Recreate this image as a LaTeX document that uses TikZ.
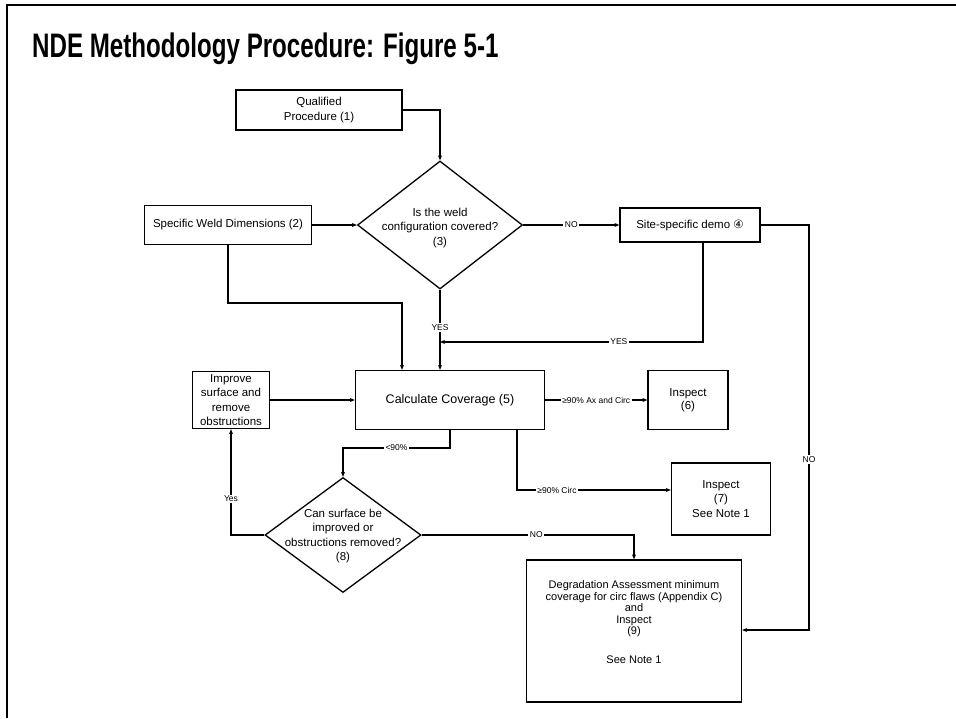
\documentclass[tikz,border=0pt]{standalone}
\usepackage{fontspec}
\setmainfont{Liberation Sans}
\newfontfamily\dejavu{DejaVu Sans}
\usetikzlibrary{positioning,arrows.meta,shapes.geometric}

\begin{document}
\begin{tikzpicture}[x=1pt, y=-1pt,
    box/.style={draw, line width=1.3pt, align=center, inner sep=0pt, font=\fontsize{11.5}{14.5}\selectfont},
    dec/.style={draw, diamond, line width=1.3pt, inner sep=0pt},
    dectext/.style={align=center, inner sep=0pt, font=\fontsize{11.5}{14.5}\selectfont},
    arr/.style={line width=1.2pt, -{Stealth[length=5pt,width=4pt]}},
    lbl/.style={fill=white, inner sep=1.5pt, font=\fontsize{8.5}{9}\selectfont}
]
\useasboundingbox (0,0) rectangle (956,718);
\draw[line width=1.2pt] (956,5) -- (7,5) -- (7,718);
\node[anchor=base west, inner sep=0pt, font=\bfseries\fontsize{34}{40}\selectfont] (title) at (32,57) {\scalebox{0.71}[1]{NDE Methodology Procedure: Figure 5-1}};

\node[box, minimum width=166pt, minimum height=40pt] (qp) at (319,110) {Qualified\\Procedure (1)};
\node[dec, minimum width=165pt, minimum height=128pt] (weld) at (440,225) {};
\node[dectext] (weldtxt) at (440,228) {Is the weld\\configuration covered?\\(3)};
\node[box, minimum width=167pt, minimum height=39pt] (dim) at (228,225) {Specific Weld Dimensions (2)};
\node[box, minimum width=140pt, minimum height=34pt] (demo) at (690,225) {Site-specific demo {\dejavu ④}};
\node[box, minimum width=189pt, minimum height=59pt, font=\fontsize{12.5}{14}\selectfont] (calc) at (450,400) {Calculate Coverage (5)};
\node[box, minimum width=80pt, minimum height=59pt, font=\fontsize{11.5}{12.5}\selectfont] (insp6) at (688,400) {Inspect\\(6)};
\node[box, minimum width=77pt, minimum height=57pt] (impr) at (231,400) {Improve\\surface and\\remove\\obstructions};
\node[dec, minimum width=156pt, minimum height=115pt] (surf) at (343,535) {};
\node[dectext] (surftxt) at (343,536) {Can surface be\\improved or\\obstructions removed?\\(8)};
\node[box, minimum width=99pt, minimum height=72pt] (insp7) at (721,499) {Inspect\\(7)\\See Note 1};
\node[box, minimum width=215pt, minimum height=142pt, font=\fontsize{11}{11.5}\selectfont] (degr) at (634,631) {Degradation Assessment minimum\\coverage for circ flaws (Appendix C)\\and\\Inspect\\(9)\\[17pt]See Note 1\\[6pt]};

\coordinate (yesj) at (440,342);
\coordinate (dimj) at (402,303);
\coordinate (noc) at (809,630);
\coordinate (lowj) at (343,448);

\draw[arr] (qp.east) -| (weld.north);
\draw[arr] (dim.east) -- (weld.west);
\draw[arr] (weld.east) -- node[lbl]{NO} (demo.west);
\draw[arr] (weld.south) -- node[lbl, pos=0.47]{YES} (weld.south |- calc.north);
\draw[arr] ([xshift=13pt]demo.south) |- node[lbl, pos=0.66]{YES} (yesj);
\draw[arr] (dim.south) |- (dimj) -- (dimj |- calc.north);
\draw[arr] (demo.east) -| node[lbl, pos=0.79]{NO} (noc) -- (noc -| degr.east);
\draw[arr] (impr) -- (calc);
\draw[arr] (calc.east) -- node[lbl]{≥90\% Ax and Circ} (insp6.west);
\draw[arr] ([xshift=67pt]calc.south) |- node[lbl, pos=0.63]{≥90\% Circ} ([yshift=9pt]insp7.west);
\draw[arr] (calc.south) |- node[lbl, pos=0.75]{<90\%} (lowj) -- (surf.north);
\draw[arr] (surf.west) -| node[lbl, pos=0.67]{Yes} (impr.south);
\draw[arr] (surf.east) -| node[lbl, pos=0.27]{NO} (degr.north);
\end{tikzpicture}
\end{document}
